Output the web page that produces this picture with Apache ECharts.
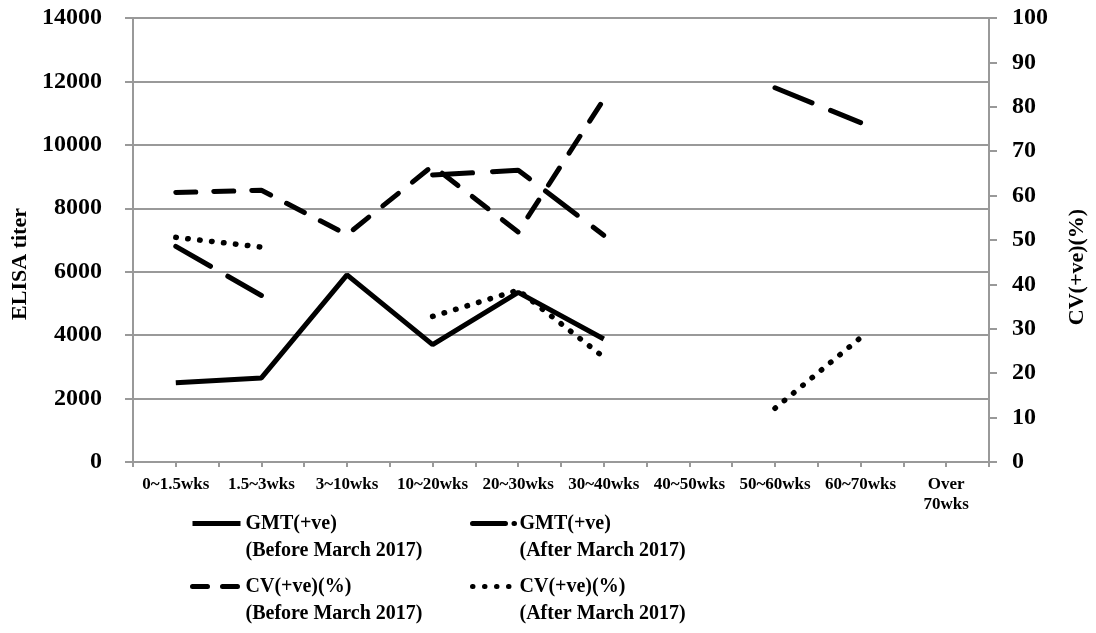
<!DOCTYPE html>
<html>
<head>
<meta charset="utf-8">
<script src="https://cdn.jsdelivr.net/npm/echarts@6/dist/echarts.min.js"></script>
<style>
  html, body { margin: 0; padding: 0; background: #fff; }
  #chart { width: 1096px; height: 633px; }
</style>
</head>
<body>
<div id="chart"></div>
<script>
// categories on the x axis
const categories = ['0~1.5wks', '1.5~3wks', '3~10wks', '10~20wks', '20~30wks',
  '30~40wks', '40~50wks', '50~60wks', '60~70wks', 'Over 70wks'];

// GMT on the left axis (ELISA titer)
const gmtBefore = [2500, 2650, 5900, 3700, 5350, 3880, null, null, null, null];
const gmtAfter = [6800, 5250, null, 9050, 9200, 7150, null, 11800, 10700, null];

// CV on the right axis (%)
const cvBefore = [60.7, 61.2, 51.2, 66.7, 51.8, 81.7, null, null, null, null];
const cvAfter = [50.6, 48.4, null, 32.8, 38.7, 23.6, null, 12.1, 28.0, null];

const names = [
  'GMT(+ve) (Before March 2017)',
  'GMT(+ve) (After March 2017)',
  'CV(+ve)(%) (Before March 2017)',
  'CV(+ve)(%) (After March 2017)'
];

const font = 'Liberation Serif';
const gray = '#999';

// minor tick positions between the category boundaries
const halfTicks = [];
categories.forEach(c => { halfTicks.push(c + 'a'); halfTicks.push(c + 'b'); });

const legendText = {
  fontFamily: font,
  fontWeight: 'bold',
  fontSize: 20,
  lineHeight: 27,
  color: '#000'
};

// blank first line so the icon sits level with the first text line
const legendFormat = n => '\n' + n.replace(' (', '\n(');

let option = {
  animation: false,
  backgroundColor: '#fff',
  grid: { left: 133, right: 106, top: 18, bottom: 171 },
  legend: [
    {
      orient: 'vertical',
      left: 190,
      top: 483,
      padding: 0,
      itemWidth: 48,
      itemHeight: 14,
      itemGap: -18,
      data: [
        { name: names[0] },
        { name: names[2], lineStyle: { type: [15, 15] } }
      ],
      formatter: legendFormat,
      itemStyle: { opacity: 0 },
      lineStyle: { width: 5 },
      textStyle: legendText
    },
    {
      orient: 'vertical',
      left: 470,
      top: 483,
      padding: 0,
      itemWidth: 42,
      itemHeight: 14,
      itemGap: -18,
      data: [
        { name: names[1], lineStyle: { type: [33, 8.5, 0.5, 20] } },
        { name: names[3] }
      ],
      formatter: legendFormat,
      itemStyle: { opacity: 0 },
      lineStyle: { width: 5 },
      textStyle: legendText
    }
  ],
  xAxis: [
    {
      type: 'category',
      data: categories,
      boundaryGap: true,
      axisLine: { lineStyle: { color: gray, width: 2 } },
      axisTick: { show: true, length: 5, lineStyle: { color: gray, width: 2 } },
      axisLabel: {
        interval: 0,
        margin: 13,
        color: '#000',
        fontFamily: font,
        fontWeight: 'bold',
        fontSize: 17,
        lineHeight: 20,
        formatter: v => v.replace(' ', '\n')
      }
    },
    {
      // only used for the tick marks at the category centres
      type: 'category',
      data: halfTicks,
      position: 'bottom',
      boundaryGap: true,
      axisLine: { show: false },
      axisTick: { show: true, interval: 0, length: 5, lineStyle: { color: gray, width: 2 } },
      axisLabel: { show: false }
    }
  ],
  yAxis: [
    {
      type: 'value',
      min: 0,
      max: 14000,
      interval: 2000,
      name: 'ELISA titer',
      nameLocation: 'middle',
      nameRotate: 90,
      nameGap: 96,
      nameTextStyle: {
        fontFamily: font, fontWeight: 'bold', fontSize: 22, color: '#000',
        padding: [0, 48, 0, 0]
      },
      axisLine: { show: true, lineStyle: { color: gray, width: 2 } },
      axisTick: { show: true, length: 8, lineStyle: { color: gray, width: 2 } },
      splitLine: { lineStyle: { color: gray, width: 2 } },
      axisLabel: {
        margin: 31,
        color: '#000',
        fontFamily: font,
        fontWeight: 'bold',
        fontSize: 24,
        formatter: v => String(v)
      }
    },
    {
      type: 'value',
      position: 'right',
      min: 0,
      max: 100,
      interval: 10,
      name: 'CV(+ve)(%)',
      nameLocation: 'middle',
      nameRotate: 90,
      nameGap: 77,
      nameTextStyle: {
        fontFamily: font, fontWeight: 'bold', fontSize: 22, color: '#000',
        padding: [0, 54, 0, 0]
      },
      axisLine: { show: true, lineStyle: { color: gray, width: 2 } },
      axisTick: { show: true, length: 8, lineStyle: { color: gray, width: 2 } },
      splitLine: { show: false },
      axisLabel: {
        margin: 23,
        color: '#000',
        fontFamily: font,
        fontWeight: 'bold',
        fontSize: 24,
        formatter: v => String(v)
      }
    }
  ],
  series: [
    {
      name: names[0],
      type: 'line',
      yAxisIndex: 0,
      data: gmtBefore,
      symbol: 'none',
      connectNulls: false,
      lineStyle: { color: '#000', width: 5, type: 'solid' },
      itemStyle: { color: '#000' }
    },
    {
      name: names[1],
      type: 'line',
      yAxisIndex: 0,
      data: gmtAfter,
      symbol: 'none',
      connectNulls: false,
      lineStyle: { color: '#000', width: 5, type: [40, 20], cap: 'round' },
      itemStyle: { color: '#000' }
    },
    {
      name: names[2],
      type: 'line',
      yAxisIndex: 1,
      data: cvBefore,
      symbol: 'none',
      connectNulls: false,
      lineStyle: { color: '#000', width: 5, type: [20, 18], cap: 'round' },
      itemStyle: { color: '#000' }
    },
    {
      name: names[3],
      type: 'line',
      yAxisIndex: 1,
      data: cvAfter,
      symbol: 'none',
      connectNulls: false,
      lineStyle: { color: '#000', width: 5.5, type: [0.5, 11.5], cap: 'round' },
      itemStyle: { color: '#000' }
    }
  ]
};

echarts.init(document.getElementById('chart')).setOption(option);
</script>
</body>
</html>
